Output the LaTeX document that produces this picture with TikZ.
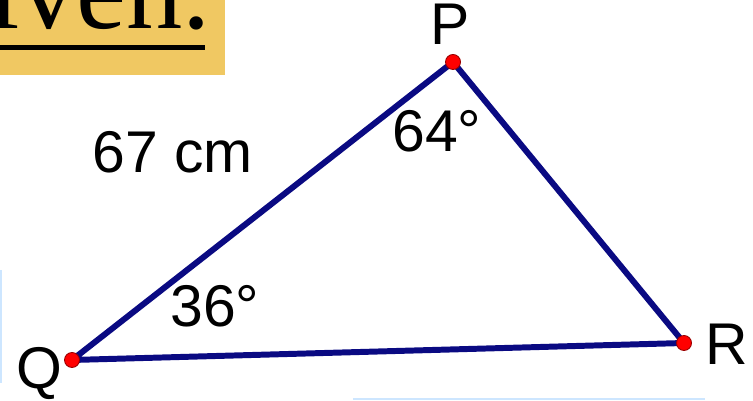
\documentclass[tikz,border=0pt]{standalone}
\usepackage{fontspec}
\setmainfont{Liberation Sans}
\newfontfamily\serifschrift{Liberation Serif}
\usepackage{tikz}
\usetikzlibrary{arrows}
\definecolor{seitenblau}{RGB}{10,10,130}
\definecolor{kastengelb}{RGB}{240,200,98}
\definecolor{hellblau}{RGB}{205,230,255}

\begin{document}
\begin{tikzpicture}[x=0.2mm, y=-0.2mm,
		ecke/.style={circle, fill=red, draw=red!60!black, line width=0.5pt, inner sep=0pt, minimum size=3mm},
		beschriftung/.style={inner sep=0pt, anchor=base, font=\fontsize{33.5}{33.5}\selectfont},
		winkel/.style={inner sep=0pt, anchor=base west, font=\fontsize{33.5}{33.5}\selectfont}]
		% Bildbereich festlegen
		\useasboundingbox (0,0) rectangle (753,401);
		\clip (0,0) rectangle (753,401);
		% Gelber Kasten oben links
		\fill[kastengelb] (0,0) rectangle (225,75);
		\node[inner sep=0pt, anchor=base east, font=\serifschrift\fontsize{64}{64}\selectfont] (given) at (211,29) {Given.};
		\fill[black] (0,45) rectangle (205,50);
		% Reste am Rand
		\draw[hellblau, line width=0.8pt] (1,270) -- (1,383);
		\draw[hellblau, line width=1.2pt] (353,399) -- (705,399);
		% Eckpunkte
		\coordinate (P) at (453,62);
		\coordinate (Q) at (72,360);
		\coordinate (R) at (684,343);
		% Dreieck zeichnen
		\draw[seitenblau, line width=3.4pt, line join=round] (Q) -- (P) -- (R) -- cycle;
		\foreach \e in {P,Q,R} \node[ecke] (punkt\e) at (\e) {};
		% Ecken beschriften
		\node[beschriftung] (labelP) at (450,45) {P};
		\node[beschriftung] (labelQ) at (39,389) {Q};
		\node[beschriftung] (labelR) at (727,365) {R};
		% Seite und Winkel
		\node[winkel] (seite) at (92,173) {67 cm};
		\node[winkel] (winkelP) at (392,152) {64°};
		\node[winkel] (winkelQ) at (170,327) {36°};
	\end{tikzpicture}
\end{document}
